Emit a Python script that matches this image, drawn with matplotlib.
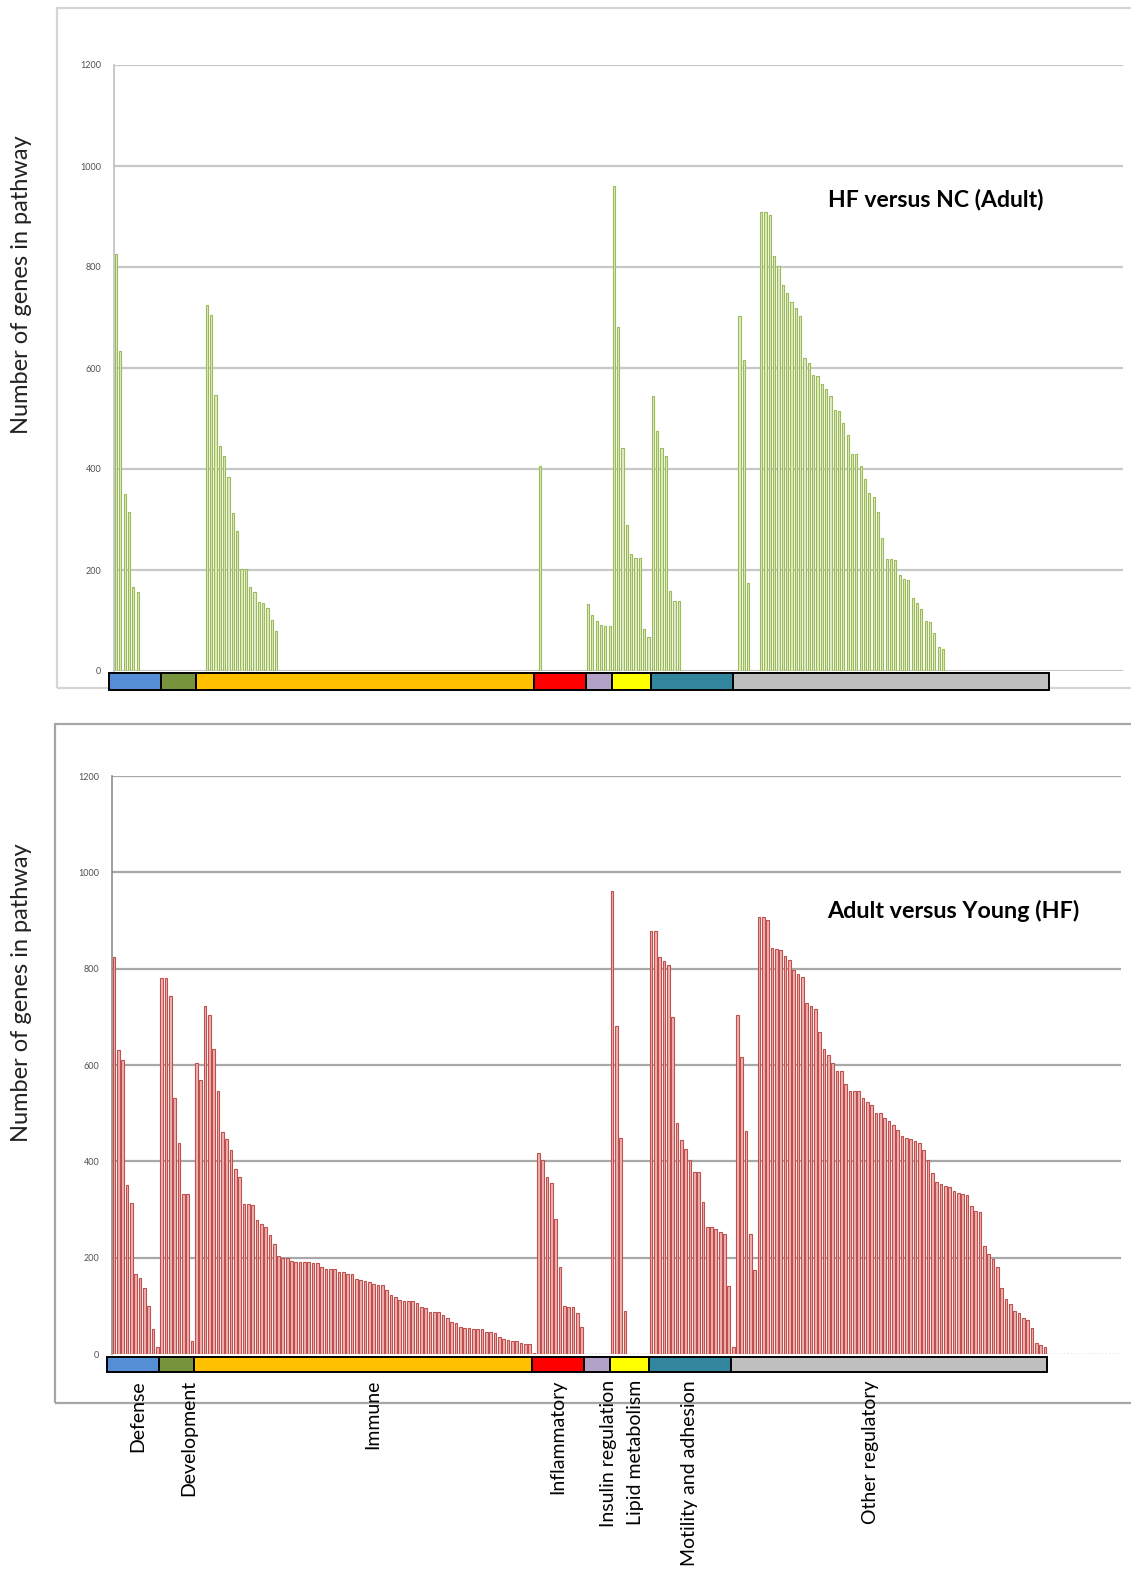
import matplotlib
matplotlib.use("Agg")
import matplotlib.pyplot as plt
from matplotlib.patches import Rectangle

plt.rcParams['font.family'] = ['Lato', 'DejaVu Sans']

categories = ["Defense", "Development", "Immune", "Inflammatory",
              "Insulin regulation", "Lipid metabolism",
              "Motility and adhesion", "Other regulatory"]
cat_colors = ["#558ED5", "#77933C", "#FFC000", "#FF0000",
              "#B3A2C7", "#FFFF00", "#31859C", "#BFBFBF"]

# HF versus NC (Adult) - pathways per category, gene counts
top_defense = [825, 634, 350, 314, 167, 157, 0, 0, 0, 0, 0]
top_development = [0, 0, 0, 0, 0, 0, 0, 0]
top_immune = [0, 0, 725, 705, 547, 446, 425, 385, 312, 278, 202, 202, 166, 157,
              136, 134, 124, 101, 80,
              0, 0, 0, 0, 0, 0, 0, 0, 0, 0, 0, 0, 0, 0, 0, 0, 0, 0, 0, 0,
              0, 0, 0, 0, 0, 0, 0, 0, 0, 0, 0, 0, 0, 0, 0, 0, 0, 0, 0, 0,
              0, 0, 0, 0, 0, 0, 0, 0, 0, 0, 0, 0, 0, 0, 0, 0, 0, 0, 0]
top_inflammatory = [0, 405, 0, 0, 0, 0, 0, 0, 0, 0, 0, 0]
top_insulin = [132, 111, 99, 91, 90, 90]
top_lipid = [961, 681, 442, 290, 231, 223, 223, 84, 68]
top_motility = [544, 476, 441, 425, 158, 139, 138,
                0, 0, 0, 0, 0, 0, 0, 0, 0, 0, 0, 0]
top_other = [0, 702, 616, 175, 0, 0,
             909, 909, 902, 822, 802, 764, 748, 731, 719, 703, 620, 609, 587,
             584, 568, 558, 545, 517, 515, 492, 467, 430, 429, 405, 380, 353,
             345, 314, 264, 222, 222, 220, 190, 183, 180, 145, 135, 122, 99,
             97, 76, 48, 44,
             0, 0, 0, 0, 0, 0, 0, 0, 0, 0, 0, 0, 0, 0, 0, 0, 0, 0, 0, 0,
             0, 0, 0, 0]

# Adult versus Young (HF)
bot_defense = [825, 632, 610, 350, 314, 167, 157, 136, 100, 52, 15]
bot_development = [780, 780, 743, 532, 438, 333, 333, 26]
bot_immune = [605, 568, 722, 703, 633, 547, 460, 447, 424, 384, 368, 312, 311,
              309, 278, 270, 263, 248, 228, 203, 200, 200, 193, 192, 191, 190,
              190, 188, 188, 180, 177, 177, 176, 171, 170, 167, 166, 156, 154,
              151, 150, 146, 144, 144, 133, 122, 119, 112, 110, 110, 109, 106,
              97, 96, 88, 88, 87, 80, 75, 67, 65, 56, 53, 53, 52, 51, 51, 46,
              45, 44, 35, 31, 30, 28, 26, 22, 21, 21]
bot_inflammatory = [3, 418, 403, 368, 354, 280, 181, 99, 97, 97, 86, 56]
bot_insulin = [0, 0, 0, 0, 0, 0]
bot_lipid = [961, 680, 449, 90, 0, 0, 0, 0, 0]
bot_motility = [878, 878, 824, 815, 807, 700, 479, 444, 425, 402, 378, 378,
                315, 264, 264, 260, 254, 249, 142]
bot_other = [14, 703, 616, 463, 250, 174,
             907, 907, 901, 843, 841, 838, 826, 819, 798, 788, 783, 729, 723,
             716, 668, 633, 621, 605, 588, 588, 561, 547, 547, 546, 531, 524,
             516, 501, 500, 490, 483, 476, 466, 453, 448, 446, 443, 438, 424,
             403, 376, 357, 353, 348, 347, 339, 334, 333, 330, 308, 297, 294,
             224, 208, 198, 181, 138, 114, 103, 90, 86, 74, 70, 54, 23, 19, 14]

top_groups = [top_defense, top_development, top_immune, top_inflammatory,
              top_insulin, top_lipid, top_motility, top_other]
bot_groups = [bot_defense, bot_development, bot_immune, bot_inflammatory,
              bot_insulin, bot_lipid, bot_motility, bot_other]

counts = [len(g) for g in bot_groups]
top_vals = [v for g in top_groups for v in g]
bot_vals = [v for g in bot_groups for v in g]
yticks = [0, 200, 400, 600, 800, 1000, 1200]

# small nudges of the category captions (in bar units), as in the original
label_shift = [0.5, 2.7, 2.3, 0, 2.8, 1.4, 0, -4.2]

W, H = 1131, 1570
fig = plt.figure(figsize=(W / 100, H / 100), dpi=100)
fig.patch.set_facecolor("white")

# panel frames (drawn under the axes so the colour bands sit on top)
fig.add_artist(Rectangle((57 / W, 1 - 688 / H), 1.1, 680 / H, transform=fig.transFigure,
                         fill=False, edgecolor="#D4D4D4", lw=1.6, zorder=-1))
fig.add_artist(Rectangle((55 / W, 1 - 1403 / H), 1.1, 679 / H, transform=fig.transFigure,
                         fill=False, edgecolor="#A6A6A6", lw=1.6, zorder=-1))

ax1 = fig.add_axes([113.8 / W, 1 - 671 / H, 1008.9 / W, 606 / H])
ax2 = fig.add_axes([111.8 / W, 1 - 1354 / H, 1008.9 / W, 578 / H])


def style_axis(ax, grid_color, spine_color):
    ax.set_xlim(-0.5, 232.5)
    ax.set_ylim(0, 1200)
    ax.set_facecolor("none")
    for s in ["top", "right", "bottom"]:
        ax.spines[s].set_visible(False)
    ax.spines["left"].set_color(spine_color)
    ax.spines["left"].set_linewidth(1.2)
    ax.set_xticks([])
    ax.set_yticks(yticks)
    ax.set_yticklabels([str(t) for t in yticks])
    ax.tick_params(axis="y", length=0, pad=9, labelsize=6.5, labelcolor="#505050")
    for t in yticks[1:]:
        ax.axhline(t, color=grid_color, lw=1.6, zorder=0)


def draw_band(ax, y0, y1):
    start = -0.5
    for k, (n, c) in enumerate(zip(counts, cat_colors)):
        left = start - 1.1 if k == 0 else start
        wid = n + 1.1 if k == 0 else n
        ax.add_patch(Rectangle((left, -y1), wid, y1 - y0, facecolor=c,
                               edgecolor="black", lw=1.4, clip_on=False, zorder=5))
        start += n


x = list(range(len(bot_vals)))

style_axis(ax1, "#C8C8C8", "#C0C0C0")
ax1.axhline(0, color="#C8C8C8", lw=1.6, zorder=0)
ax1.bar(x, top_vals, width=0.5, color="#E1EBC8", edgecolor="#9BBB59",
        lw=[0.8 if v else 0 for v in top_vals], zorder=3)
draw_band(ax1, 4, 37)

style_axis(ax2, "#A8A8A8", "#8C8C8C")
ax2.axhline(0, color="#8C8C8C", lw=1.0, ls=(0, (1, 1.5)), zorder=2)
ax2.bar(x, bot_vals, width=0.62, color="#EDB3B2", edgecolor="#C0504D", lw=0.8, zorder=3)
draw_band(ax2, 6, 37)

# category labels under the lower band
start = -0.5
for name, n, dx in zip(categories, counts, label_shift):
    ax2.text(start + n / 2 + dx, -54, name, rotation=90, ha="center", va="top",
             fontsize=14, color="black", clip_on=False)
    start += n

fig.text(828 / W, 1 - 199 / H, "HF versus NC (Adult)", ha="left", va="center",
         fontsize=16.6, fontweight="bold")
fig.text(827 / W, 1 - 911 / H, "Adult versus Young (HF)", ha="left", va="center",
         fontsize=16.8, fontweight="bold")

for yc in [285, 993]:
    fig.text(22 / W, 1 - yc / H, "Number of genes in pathway", rotation=90,
             ha="center", va="center", fontsize=17, color="#222222")

fig.savefig("out.png", dpi=100, facecolor="white")
